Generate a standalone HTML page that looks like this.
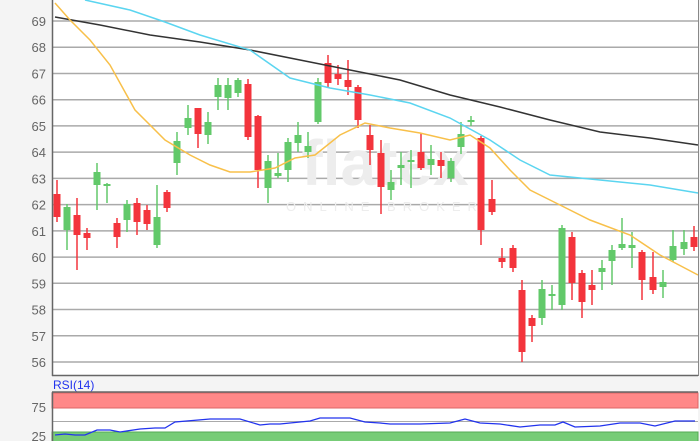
<!DOCTYPE html>
<html><head><meta charset="utf-8"><style>
html,body{margin:0;padding:0;background:#f4f4f4;width:700px;height:441px;overflow:hidden}
svg{display:block;font-family:"Liberation Sans",sans-serif}
</style></head><body>
<svg id="s" width="700" height="441" xmlns="http://www.w3.org/2000/svg">
<rect x="0" y="0" width="700" height="441" fill="#f4f4f4"/>
<rect x="52" y="0" width="646" height="375" fill="#fff"/>
<g id="grid"></g>
<text x="385" y="185" font-size="64" fill="#ededed" text-anchor="middle" font-weight="bold">flatex</text>
<text x="385" y="211" font-size="13" fill="#ededed" text-anchor="middle" letter-spacing="7">ONLINE BROKER</text>
<g id="candles"></g>
<polyline fill="none" stroke="#333" stroke-width="1.5" points="55,17 100,25 150,35 200,42 250,50 300,60 350,70 400,80 450,95 500,107 550,120 600,132 650,138 698,145"/>
<polyline fill="none" stroke="#5bd5f0" stroke-width="1.5" points="85,0 130,10 165,22 200,35 250,50 290,78 330,88 370,95 410,103 450,118 490,140 520,160 550,175 600,180 650,185 698,193"/>
<polyline fill="none" stroke="#f8c04a" stroke-width="1.5" points="55,3 70,20 90,40 110,65 135,110 165,140 190,155 210,165 230,172 250,172 275,168 295,158 315,155 340,135 365,123 390,128 420,133 450,140 470,135 490,148 510,170 530,190 560,205 590,220 630,235 660,255 698,275"/>
<line x1="52.5" y1="0" x2="52.5" y2="376" stroke="#666" stroke-width="1.5"/>
<line x1="52" y1="375.5" x2="698" y2="375.5" stroke="#666" stroke-width="1.5"/>
<line x1="698.5" y1="0" x2="698.5" y2="376" stroke="#888" stroke-width="1"/>
<text x="53" y="389" font-size="12" fill="#2233ee">RSI(14)</text>
<rect x="52" y="392" width="646" height="49" fill="#fff"/>
<rect x="52" y="393" width="646" height="15" fill="#f88" stroke="#d66" stroke-width="1"/>
<line x1="52" y1="421.5" x2="698" y2="421.5" stroke="#aaa"/>
<rect x="52" y="432" width="646" height="10" fill="#7c7" stroke="#5a5" stroke-width="1"/>
<line x1="52" y1="392" x2="698" y2="392" stroke="#666" stroke-width="1.5"/>
<line x1="52.5" y1="392" x2="52.5" y2="441" stroke="#666" stroke-width="1.5"/>
<polyline fill="none" stroke="#2233ee" stroke-width="1.3" points="55,435 65,434 75,435 85,435 97,430 110,430 120,432 140,429 155,428 165,428 175,422 210,419 240,419 260,425 270,424 280,424 300,422 310,421 320,418 335,418 350,418 365,422 380,423 390,424 400,424 420,424 450,423 465,419 480,423 500,424 520,427 540,425 555,425 563,422 575,427 600,426 620,423 640,423 655,426 675,421 695,421"/>
<text x="46" y="412" font-size="13" fill="#666" text-anchor="end">75</text>
<text x="46" y="441" font-size="13" fill="#666" text-anchor="end">25</text>
</svg>
<script>
var s='';
for(var v=56;v<=69;v++){var y=21+(69-v)*26.23;
s+='<line x1="52" y1="'+y+'" x2="698" y2="'+y+'" stroke="#aaa" stroke-width="1.5"/>';
s+='<text x="46" y="'+(y+5)+'" font-size="13" fill="#666" text-anchor="end">'+v+'</text>';}
document.getElementById('grid').innerHTML=s;
var d=[[57,'r',194,217,180,222],[67,'g',207,230,204,250],[77,'r',215,235,198,270],[87,'r',233,238,228,250],[97,'g',172,185,163,210],[107,'g',184,186,183,203],[117,'r',223,237,218,248],[127,'g',204,220,200,232],[137,'r',203,222,198,235],[147,'r',210,224,205,230],[157,'g',217,245,185,248],[167,'r',192,208,190,212],[177,'g',141,163,132,175],[188,'g',118,128,105,135],[198,'r',108,134,108,148],[208,'g',122,135,112,144],[218,'g',85,97,78,110],[228,'g',85,98,78,110],[238,'g',80,93,78,97],[248,'r',84,137,79,140],[258,'r',116,170,115,188],[268,'g',161,188,155,203],[278,'g',173,176,153,178],[288,'g',142,170,138,182],[298,'g',135,143,122,152],[308,'g',146,152,132,158],[318,'g',82,122,78,124],[328,'r',63,83,55,88],[338,'r',74,79,65,85],[348,'r',80,87,60,95],[358,'r',87,120,85,128],[370,'r',135,150,125,165],[381,'r',153,187,140,214],[391,'g',182,190,170,200],[401,'g',165,168,152,185],[411,'g',160,162,150,188],[421,'r',152,168,133,170],[431,'g',159,165,145,175],[441,'r',160,166,152,178],[451,'g',161,178,158,182],[461,'g',134,147,122,154],[471,'g',120,121,116,126],[481,'r',138,230,136,245],[492,'r',199,212,180,215],[502,'r',258,262,248,268],[513,'r',248,268,245,272],[522,'r',290,352,280,362],[532,'r',318,326,315,342],[542,'g',289,318,280,325],[552,'g',294,296,285,310],[562,'g',228,305,225,310],[572,'r',237,283,232,300],[582,'r',273,302,270,318],[592,'r',285,290,270,305],[602,'g',268,272,260,290],[612,'g',250,261,245,285],[622,'g',244,248,218,250],[632,'g',245,248,232,268],[642,'r',252,280,250,300],[653,'r',277,290,252,294],[663,'g',282,287,270,298],[673,'g',246,260,230,262],[684,'g',242,249,230,255],[694,'r',237,247,226,251]];
var c='';
d.forEach(function(k){var col=k[1]=='r'?'#f3343c':'#62c96a';
c+='<line x1="'+k[0]+'" y1="'+k[4]+'" x2="'+k[0]+'" y2="'+k[5]+'" stroke="'+col+'" stroke-width="1.5"/>';
var h=Math.max(2,k[3]-k[2]);
c+='<rect x="'+(k[0]-3.5)+'" y="'+k[2]+'" width="7" height="'+h+'" fill="'+col+'"/>';});
document.getElementById('candles').innerHTML=c;
</script>
</body></html>
